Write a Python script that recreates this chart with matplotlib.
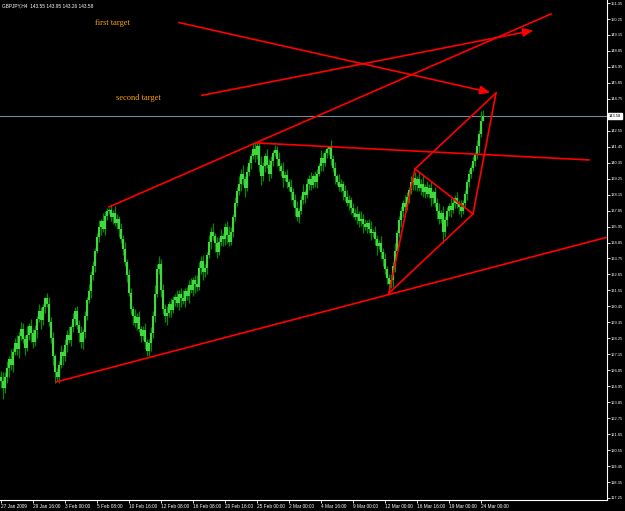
import numpy as np
import matplotlib.pyplot as plt

# GBPJPY H4 closes, one per bar
closes = [
    125.3, 124.8, 125.6, 126.2, 126.8, 126.4, 127.3, 127.9, 127.5, 128.4, 128.9,
    128.2, 127.6, 128.5, 129.1, 128.6,
    128.0, 128.8, 129.6, 130.1, 129.5, 130.4, 131.0, 130.6,
    129.4, 128.3, 127.0, 125.9, 125.6,
    126.4, 127.3, 127.0, 127.8, 128.5, 128.1, 129.0, 129.6, 130.1,
    129.2, 128.6, 128.0, 128.7,
    129.8, 130.9, 131.5, 132.6, 133.2, 134.3, 135.2, 135.9, 136.3, 135.8, 136.7, 137.0, 137.1,
    136.6, 136.9, 136.2, 136.5, 135.8, 135.1,
    134.4, 133.5, 132.6, 131.4, 130.3, 129.8, 129.3, 129.7, 128.9, 128.4, 128.8, 128.0, 127.4, 127.9,
    128.6, 129.8, 131.3, 133.0, 133.4, 131.6, 130.3,
    129.8, 130.0, 130.6, 130.2, 130.9, 131.1, 130.7, 131.3, 131.0, 130.8, 131.5, 131.2, 131.9,
    131.6, 132.3, 132.0, 131.8, 133.1, 133.6,
    132.8, 133.1, 134.0, 134.9, 135.6, 135.3, 134.8, 134.2, 134.9, 135.3, 135.1, 135.9, 135.4,
    134.9, 135.6, 136.6, 137.6, 138.4,
    138.9, 139.6, 139.2, 138.6, 139.7, 140.3, 140.8, 141.3, 140.9, 141.5,
    140.2, 139.4, 140.1, 140.8, 140.2, 139.6, 140.5, 141.0, 141.2, 140.6, 140.1, 139.8, 139.3,
    139.5, 139.0, 138.7, 138.3,
    137.8, 137.2, 136.6, 137.0, 137.8, 138.3, 138.1, 138.9, 139.2, 138.8, 139.4,
    139.0, 139.6, 140.1, 140.7, 140.3, 141.0, 141.3, 141.4,
    140.6, 140.0, 139.4, 139.0, 138.7, 138.9, 138.4, 138.0, 137.6, 137.8,
    137.2, 136.9, 136.6, 136.8, 136.3, 136.5, 136.1, 135.9, 136.2, 135.8,
    135.5, 135.6, 135.1, 134.6, 134.8, 134.2, 133.7, 133.0, 132.4, 132.0,
    132.3, 133.2, 134.3, 135.5, 136.4, 137.0, 137.6, 137.3, 138.0, 138.5, 139.0, 139.3,
    138.8, 139.2, 138.6, 138.9, 138.3, 138.7, 138.2, 138.6, 137.9, 138.3, 137.6, 137.0, 136.5,
    136.9, 135.6, 136.4,
    137.0, 137.4, 137.1, 137.6, 137.9, 137.5, 137.3, 137.0, 137.6, 138.2, 139.0, 139.6,
    140.0, 140.5, 140.9, 141.5, 142.3, 143.2, 143.58,
]
first_open = 125.6

# wick above / below the body of each bar
hi_wick = [
    0.4, 0.6, 0.3, 0.5, 0.2, 0.7, 0.3, 0.4, 0.6, 0.3, 0.5,
    0.4, 0.3, 0.6, 0.2, 0.5,
    0.3, 0.4, 0.2, 0.5, 0.3, 0.2, 0.1, 0.4,
    0.5, 0.3, 0.4, 0.2, 0.3,
    0.3, 0.5, 0.2, 0.4, 0.3, 0.6, 0.2, 0.4, 0.3,
    0.4, 0.3, 0.5, 0.2,
    0.3, 0.2, 0.5, 0.3, 0.4, 0.2, 0.3, 0.5, 0.2, 0.6, 0.3, 0.2, 0.15,
    0.4, 0.2, 0.5, 0.3, 0.2, 0.4,
    0.3, 0.5, 0.2, 0.4, 0.3, 0.2, 0.5, 0.3, 0.4, 0.2, 0.3, 0.5, 0.2, 0.3,
    0.4, 0.3, 0.6, 0.4, 0.5, 0.3, 0.4,
    0.3, 0.5, 0.2, 0.4, 0.3, 0.2, 0.5, 0.3, 0.4, 0.6, 0.2, 0.3, 0.4,
    0.5, 0.2, 0.3, 0.6, 0.4, 0.3,
    0.4, 0.3, 0.2, 0.5, 0.3, 0.6, 0.2, 0.4, 0.3, 0.5, 0.2, 0.3, 0.4,
    0.6, 0.3, 0.2, 0.4, 0.3,
    0.5, 0.3, 0.6, 0.2, 0.4, 0.3, 0.2, 0.4, 0.5, 0.2,
    0.4, 0.6, 0.3, 0.2, 0.5, 0.4, 0.3, 0.2, 0.4, 0.3, 0.5, 0.2, 0.6,
    0.3, 0.4, 0.2, 0.5,
    0.3, 0.4, 0.5, 0.2, 0.3, 0.6, 0.2, 0.4, 0.3, 0.5, 0.2,
    0.4, 0.3, 0.2, 0.5, 0.3, 0.2, 0.1, 0.1,
    0.5, 0.3, 0.4, 0.2, 0.6, 0.3, 0.2, 0.4, 0.5, 0.3,
    0.2, 0.4, 0.3, 0.6, 0.2, 0.5, 0.3, 0.4, 0.2, 0.3,
    0.5, 0.2, 0.4, 0.3, 0.2, 0.5, 0.3, 0.4, 0.2, 0.3,
    0.4, 0.3, 0.5, 0.2, 0.3, 0.4, 0.2, 0.5, 0.3, 0.2, 0.4, 0.3,
    0.4, 0.2, 0.5, 0.3, 0.6, 0.2, 0.4, 0.3, 0.5, 0.2, 0.4, 0.3, 0.6,
    0.2, 0.5, 0.3,
    0.3, 0.2, 0.5, 0.3, 0.2, 0.4, 0.3, 0.5, 0.2, 0.3, 0.2, 0.3,
    0.2, 0.3, 0.2, 0.4, 0.3, 0.7, 0.37,
]
lo_wick = [
    0.5, 0.7, 0.3, 0.4, 0.6, 0.3, 0.5, 0.2, 0.4, 0.6, 0.3,
    0.3, 0.5, 0.2, 0.4, 0.6,
    0.4, 0.3, 0.5, 0.2, 0.6, 0.3, 0.4, 0.2,
    0.3, 0.4, 0.6, 0.7, 0.3,
    0.4, 0.2, 0.6, 0.3, 0.5, 0.2, 0.4, 0.3, 0.5,
    0.3, 0.6, 0.4, 0.5,
    0.4, 0.3, 0.2, 0.5, 0.3, 0.4, 0.2, 0.3, 0.5, 0.2, 0.4, 0.3, 0.2,
    0.3, 0.5, 0.2, 0.4, 0.6, 0.3,
    0.4, 0.3, 0.5, 0.2, 0.4, 0.6, 0.3, 0.5, 0.2, 0.4, 0.3, 0.5, 0.4, 0.4,
    0.5, 0.3, 0.4, 0.2, 0.3, 0.5, 0.4,
    0.4, 0.6, 0.3, 0.5, 0.2, 0.4, 0.3, 0.5, 0.6, 0.2, 0.4, 0.3, 0.5,
    0.2, 0.4, 0.6, 0.3, 0.2, 0.4,
    0.5, 0.3, 0.4, 0.2, 0.5, 0.3, 0.6, 0.4, 0.2, 0.3, 0.5, 0.4, 0.6,
    0.3, 0.2, 0.4, 0.3, 0.2,
    0.3, 0.5, 0.4, 0.6, 0.2, 0.3, 0.4, 0.2, 0.5, 0.3,
    0.5, 0.6, 0.3, 0.4, 0.2, 0.5, 0.3, 0.4, 0.2, 0.5, 0.3, 0.4, 0.6,
    0.2, 0.4, 0.3, 0.5,
    0.4, 0.5, 0.3, 0.4, 0.2, 0.3, 0.5, 0.2, 0.4, 0.3, 0.2,
    0.3, 0.4, 0.2, 0.3, 0.5, 0.2, 0.3, 0.4,
    0.4, 0.3, 0.5, 0.2, 0.3, 0.4, 0.6, 0.3, 0.2, 0.5,
    0.4, 0.3, 0.2, 0.5, 0.4, 0.3, 0.6, 0.2, 0.4, 0.3,
    0.5, 0.3, 0.4, 0.6, 0.2, 0.4, 0.5, 0.3, 0.4, 0.6,
    0.3, 0.5, 0.4, 0.2, 0.3, 0.5, 0.4, 0.3, 0.2, 0.4, 0.3, 0.5,
    0.3, 0.4, 0.2, 0.5, 0.3, 0.4, 0.2, 0.3, 0.5, 0.4, 0.3, 0.5, 0.4,
    0.3, 0.8, 0.4,
    0.4, 0.3, 0.5, 0.2, 0.4, 0.3, 0.5, 0.4, 0.2, 0.3, 0.4, 0.3,
    0.3, 0.2, 0.4, 0.3, 0.5, 0.2, 0.0,
]

x_ticks = [0, 16, 32, 48, 64, 80, 96, 112, 128, 144, 160, 176, 192, 208, 224, 240]
x_labels = ["27 Jan 2009", "29 Jan 16:00", "3 Feb 00:00", "5 Feb 08:00", "10 Feb 16:00",
            "12 Feb 08:00", "16 Feb 08:00", "20 Feb 16:00", "25 Feb 00:00", "2 Mar 00:00",
            "4 Mar 16:00", "9 Mar 00:00", "12 Mar 00:00", "16 Mar 16:00", "19 Mar 00:00",
            "24 Mar 00:00"]
y_ticks = [117.25 + 1.1 * k for k in range(32)]

header = "GBPJPY,H4  143.55 143.95 143.26 143.58"
last_price = 143.58

# trendlines: (bar, price) pairs
channel_top = [(54, 137.3), (275, 150.6)]
channel_bottom = [(27.5, 125.24), (320, 135.83)]
resistance = [(128, 141.71), (294, 140.54)]
arrow_first = [(87.5, 150.05), (246, 145.15)]
arrow_second = [(99, 144.95), (267.5, 149.5)]
wedge_a = (194, 131.37)
wedge_b = (207, 139.92)
wedge_c = (236, 136.82)
wedge_d = (247.5, 145.15)

closes = np.array(closes)
opens = np.concatenate([[first_open], closes[:-1]])
highs = np.maximum(opens, closes) + np.array(hi_wick)
lows = np.minimum(opens, closes) - np.array(lo_wick)
bars = np.arange(len(closes))

fig = plt.figure(figsize=(6.25, 5.11), dpi=100, facecolor="black")
ax = fig.add_axes([0, 11 / 511, 607 / 625, 500 / 511])
ax.set_facecolor("black")

# candles
ax.vlines(bars, lows, highs, color="#008c00", lw=0.9, zorder=2)
ax.vlines(bars, opens, closes, color="#3fd83f", lw=1.5, zorder=2)

# current price
ax.axhline(last_price, color="#778899", lw=0.8, zorder=1)

red = "#ff0000"
for seg in [channel_top, channel_bottom, resistance]:
    ax.plot([p[0] for p in seg], [p[1] for p in seg], color=red, lw=1.2, zorder=4)
for p, q in [(wedge_a, wedge_b), (wedge_a, wedge_c), (wedge_b, wedge_c),
             (wedge_b, wedge_d), (wedge_c, wedge_d)]:
    ax.plot([p[0], q[0]], [p[1], q[1]], color=red, lw=1.2, zorder=4)
for seg in [arrow_first, arrow_second]:
    ax.annotate("", xy=seg[1], xytext=seg[0],
                arrowprops=dict(arrowstyle="-|>,head_length=0.6,head_width=0.25",
                                color=red, lw=1.2), zorder=4)

ax.text(55.5, 150.0, "first target", color="#ffa500", fontsize=6,
        family="Liberation Serif", ha="center", va="center")
ax.text(68.5, 144.8, "second target", color="#ffa500", fontsize=6,
        family="Liberation Serif", ha="center", va="center")
ax.text(0.003, 0.993, header, transform=ax.transAxes, color="white", fontsize=3.4,
        family="Liberation Sans", ha="left", va="top")

ax.set_xlim(-0.5, 303)
ax.set_ylim(117.11, 151.56)

ax.yaxis.tick_right()
ax.set_yticks(y_ticks)
# the label under the price box is hidden in the terminal
ax.set_yticklabels(["" if abs(v - last_price) < 0.5 else f"{v:.2f}" for v in y_ticks])
ax.set_xticks(x_ticks)
ax.set_xticklabels(x_labels, ha="left")
ax.tick_params(axis="y", colors="white", labelsize=2.9, length=2, width=0.6, pad=0.8)
ax.tick_params(axis="x", colors="white", labelsize=3.4, length=2, width=0.6, pad=1)
for lab in ax.get_xticklabels() + ax.get_yticklabels():
    lab.set_family("Liberation Sans")

for side in ["top", "left"]:
    ax.spines[side].set_visible(False)
for side in ["right", "bottom"]:
    ax.spines[side].set_color("white")
    ax.spines[side].set_linewidth(0.8)

ax.text(1.003, last_price, f"{last_price:.2f}", transform=ax.get_yaxis_transform(),
        color="black", fontsize=2.9, family="Liberation Sans", ha="left", va="center",
        bbox=dict(boxstyle="square,pad=0.25", fc="white", ec="white"),
        clip_on=False, zorder=6)

fig.savefig("out.png", dpi=100, facecolor="black")
